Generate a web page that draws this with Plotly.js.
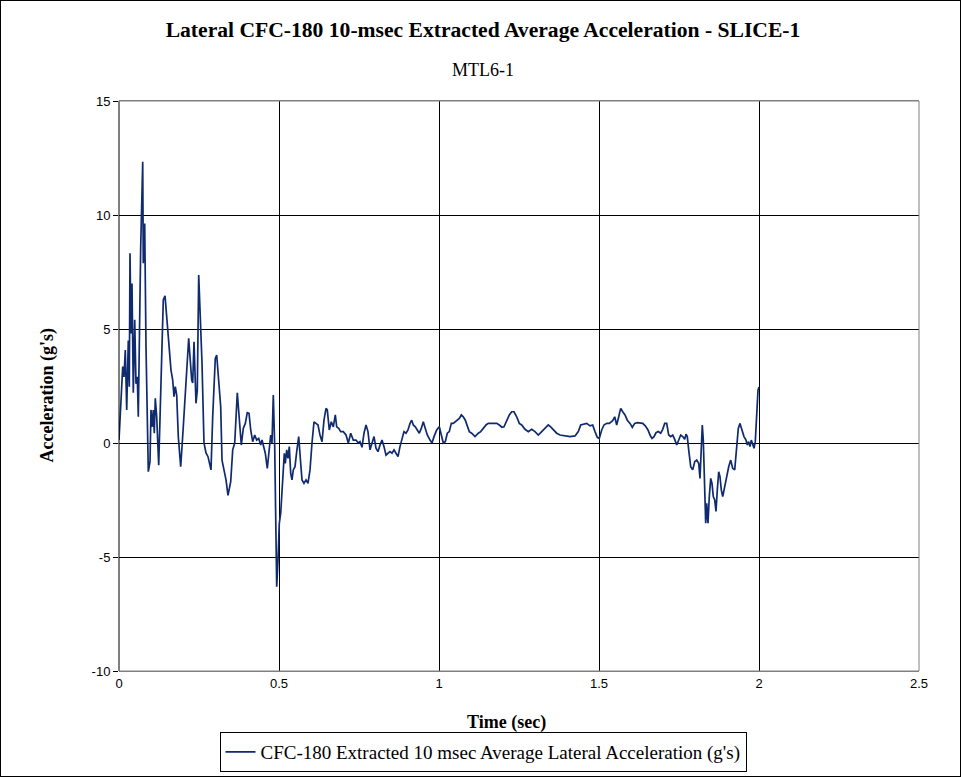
<!DOCTYPE html>
<html>
<head>
<meta charset="utf-8">
<script src="https://cdn.plot.ly/plotly-3.0.1.min.js"></script>
<style>
html,body{margin:0;padding:0;background:#fff;}
#chart{width:959px;height:775px;border:1px solid #000;}
</style>
</head>
<body>
<div id="chart"></div>
<script>
const timeSec = [
0.000,0.0116,0.0156,0.0197,0.0241,0.0291,0.0322,0.0344,0.0375,0.0406,0.0447,0.0491,0.0531,0.0572,0.0603,0.0678,0.0741,0.0759,0.0803,0.0844,
0.0916,0.0969,0.1000,0.1041,0.1072,0.1103,0.1134,0.1178,0.1241,0.1303,0.1384,0.1438,0.1509,0.1572,0.1625,0.1678,0.1719,0.1759,0.1803,0.1853,
0.1928,0.2009,0.2094,0.2178,0.2219,0.2272,0.2303,0.2344,0.2406,0.2447,0.2491,0.2531,0.2594,0.2656,0.2719,0.2781,0.2822,0.2875,0.2928,0.3009,
0.3053,0.3116,0.3178,0.3219,0.3281,0.3344,0.3406,0.3491,0.3553,0.3616,0.3697,0.3759,0.3822,0.3884,0.3947,0.4009,0.4063,0.4116,0.4178,0.4241,
0.4303,0.4366,0.4428,0.4469,0.4509,0.4572,0.4634,0.4697,0.4741,0.4781,0.4822,0.4866,0.4906,0.4928,0.4969,0.5009,0.5053,0.5094,0.5134,0.5166,
0.5197,0.5241,0.5281,0.5322,0.5366,0.5406,0.5447,0.5500,0.5553,0.5616,0.5678,0.5719,0.5781,0.5844,0.5906,0.5969,0.6031,0.6094,0.6156,0.6219,
0.6281,0.6344,0.6406,0.6469,0.6509,0.6572,0.6634,0.6697,0.6759,0.6803,0.6866,0.6928,0.7009,0.7094,0.7166,0.7241,0.7322,0.7406,0.7478,0.7531,
0.7594,0.7656,0.7719,0.7781,0.7844,0.7906,0.7969,0.8031,0.8094,0.8156,0.8219,0.8281,0.8344,0.8406,0.8469,0.8531,0.8594,0.8656,0.8719,0.8781,
0.8844,0.8906,0.8969,0.9031,0.9094,0.9147,0.9197,0.9259,0.9322,0.9384,0.9447,0.9509,0.9572,0.9634,0.9719,0.9781,0.9844,0.9928,1.0009,1.0072,
1.0134,1.0197,1.0259,1.0322,1.0384,1.0447,1.0509,1.0572,1.0634,1.0697,1.0759,1.0822,1.0884,1.0947,1.1022,1.1125,1.1228,1.1303,1.1384,1.1469,
1.1541,1.1616,1.1697,1.1803,1.1884,1.1969,1.2031,1.2116,1.2197,1.2272,1.2344,1.2428,1.2509,1.2584,1.2688,1.2791,1.2897,1.3000,1.3103,1.3209,
1.3313,1.3416,1.3491,1.3572,1.3678,1.3781,1.3938,1.4094,1.4250,1.4353,1.4428,1.4531,1.4616,1.4719,1.4803,1.4875,1.4947,1.5009,1.5084,1.5156,
1.5241,1.5322,1.5428,1.5491,1.5553,1.5616,1.5678,1.5741,1.5813,1.5884,1.5969,1.6041,1.6116,1.6197,1.6281,1.6366,1.6447,1.6531,1.6594,1.6656,
1.6719,1.6781,1.6853,1.6928,1.6991,1.7053,1.7116,1.7178,1.7241,1.7303,1.7366,1.7428,1.7491,1.7553,1.7616,1.7678,1.7719,1.7759,1.7803,1.7866,
1.7928,1.7991,1.8053,1.8116,1.8156,1.8188,1.8228,1.8259,1.8291,1.8334,1.8366,1.8406,1.8447,1.8491,1.8531,1.8572,1.8616,1.8656,1.8697,1.8741,
1.8781,1.8822,1.8866,1.8906,1.8947,1.8991,1.9053,1.9116,1.9178,1.9241,1.9303,1.9353,1.9406,1.9459,1.9531,1.9594,1.9634,1.9678,1.9719,1.9759,
1.9803,1.9844,1.9884,1.9928,1.9969,2.0000
];
const accelG = [
0.13,3.35,2.9,4.08,1.45,4.5,2.47,8.32,4.8,7.0,2.2,5.4,2.6,2.9,1.15,8.6,12.34,7.88,9.63,4.2,
-1.26,-0.82,1.45,0.71,1.45,0.43,1.96,1.15,-0.97,2.6,6.27,6.45,5.25,4.22,3.2,2.76,2.03,2.47,2.1,0.28,
-1.04,0.71,2.62,4.59,3.79,2.76,2.63,4.44,1.74,2.32,7.37,5.83,3.5,0.0,-0.44,-0.6,-0.82,-1.18,1.15,3.71,
3.86,2.9,1.59,-0.75,-1.18,-1.62,-2.3,-1.7,-0.3,0.0,2.2,1.15,-0.09,0.64,0.86,1.33,1.3,0.57,0.06,0.35,
0.13,0.2,-0.09,0.13,-0.16,-0.45,-1.11,-0.09,0.35,0.0,2.1,-0.16,-3.38,-6.3,-5.13,-3.52,-3.08,-1.92,-1.18,-0.45,
-0.89,-0.3,-0.67,-0.16,-1.33,-1.62,-1.18,-1.04,-0.38,0.28,-0.89,-1.62,-1.77,-1.62,-1.77,-1.18,0.0,0.93,0.86,0.79,
0.35,0.06,1.0,1.52,1.45,0.57,0.93,0.71,1.23,0.71,0.64,0.5,0.5,0.35,0.0,0.43,0.13,0.13,0.0,0.06,
-0.19,0.43,0.79,0.5,-0.3,0.0,0.28,-0.23,-0.38,-0.09,0.13,-0.16,-0.53,-0.45,-0.38,-0.45,-0.3,-0.45,-0.6,-0.16,
0.13,0.5,0.43,0.57,0.86,1.0,0.79,0.71,0.57,0.43,0.64,0.93,0.64,0.35,0.13,0.0,0.28,0.57,0.71,0.28,
0.0,0.06,0.43,0.5,0.86,0.86,0.93,1.0,1.08,1.23,1.15,1.0,0.79,0.5,0.43,0.28,0.43,0.5,0.64,0.79,
0.86,0.86,0.89,0.86,0.79,0.69,0.71,1.0,1.23,1.37,1.37,1.15,0.86,0.79,0.6,0.5,0.6,0.5,0.35,0.5,
0.64,0.79,0.71,0.57,0.43,0.35,0.32,0.28,0.31,0.5,0.79,0.82,0.86,0.75,0.79,0.5,0.25,0.2,0.57,0.79,
0.86,0.86,0.98,1.15,0.79,1.15,1.52,1.37,1.23,1.0,0.86,0.69,0.86,0.89,0.86,0.86,0.75,0.57,0.35,0.2,
0.28,0.45,0.5,0.43,0.6,0.86,0.86,0.35,0.28,0.35,0.16,-0.09,0.13,0.35,0.28,0.16,0.39,0.28,-0.3,-1.04,
-1.18,-0.82,-0.75,-0.89,-1.55,-0.75,0.79,0.13,-1.77,-3.52,-2.64,-3.52,-2.35,-1.55,-1.77,-2.35,-2.5,-3.0,-2.06,-1.26,
-1.48,-2.06,-2.35,-2.06,-1.92,-1.48,-1.04,-0.75,-1.11,-1.18,-0.16,0.64,0.86,0.57,0.28,0.13,-0.09,0.06,-0.16,0.13,
-0.09,-0.23,0.06,1.45,2.32,2.45
];
const xTicks = [0, 0.5, 1, 1.5, 2, 2.5];
const yTicks = [-10, -5, 0, 5, 10, 15];
const seriesName = "CFC-180 Extracted 10 msec Average Lateral Acceleration (g's)";

const serif = '"Liberation Serif", "Times New Roman", serif';
const sans = '"Liberation Sans", Arial, sans-serif';

const trace = {
  x: timeSec, y: accelG, type: 'scatter', mode: 'lines', name: seriesName,
  line: {color: '#0f2a6e', width: 1.7},
  showlegend: true
};

const layout = {
  width: 959, height: 775,
  paper_bgcolor: '#fff', plot_bgcolor: '#fff',
  margin: {l: 118, r: 41, t: 100, b: 105},
  title: {
    text: '<b>Lateral CFC-180 10-msec Extracted Average Acceleration - SLICE-1</b>',
    font: {family: serif, size: 21.6, color: '#000'},
    x: 482/959, xref: 'container', xanchor: 'center',
    y: 1 - 28/775, yref: 'container', yanchor: 'middle'
  },
  xaxis: {
    range: [0, 2.5], tickvals: xTicks, ticktext: xTicks.map(String),
    showgrid: true, gridcolor: '#000', gridwidth: 1,
    zeroline: false, showline: true, linecolor: '#808080', linewidth: 1, mirror: true,
    ticks: '', tickfont: {family: sans, size: 13, color: '#000'},
    fixedrange: true
  },
  yaxis: {
    range: [-10, 15], tickvals: yTicks, ticktext: yTicks.map(String),
    showgrid: true, gridcolor: '#000', gridwidth: 1,
    zeroline: true, zerolinecolor: '#000', zerolinewidth: 1,
    showline: false,
    ticks: 'outside', ticklen: 5, tickcolor: '#000', tickwidth: 1,
    tickfont: {family: sans, size: 13, color: '#000'},
    fixedrange: true
  },
  shapes: [
    {type: 'line', xref: 'paper', yref: 'paper', x0: 0, x1: 0, y0: 0, y1: 1,
     line: {color: '#000', width: 1}},
    {type: 'line', xref: 'paper', yref: 'paper', x0: 0, x1: 1, y0: 1, y1: 1,
     line: {color: '#808080', width: 1}},
    {type: 'line', xref: 'paper', yref: 'paper', x0: 1, x1: 1, y0: 0, y1: 1,
     line: {color: '#808080', width: 1}},
    {type: 'line', xref: 'paper', yref: 'paper', x0: 0, x1: 1, y0: 0, y1: 0,
     line: {color: '#808080', width: 1}}
  ],
  annotations: [
    {text: 'MTL6-1', xref: 'paper', yref: 'paper', x: (482-118)/800, y: 1 + 31/570,
     xanchor: 'center', yanchor: 'middle', showarrow: false,
     font: {family: serif, size: 18, color: '#000'}},
    {text: '<b>Time (sec)</b>', xref: 'paper', yref: 'paper', x: (505-118)/800, y: -(721-670)/570,
     xanchor: 'center', yanchor: 'middle', showarrow: false,
     font: {family: serif, size: 18, color: '#000'}},
    {text: "<b>Acceleration (g's)</b>", xref: 'paper', yref: 'paper', x: -(118-46)/800, y: (670-394.5)/570,
     xanchor: 'center', yanchor: 'middle', showarrow: false, textangle: -90,
     font: {family: serif, size: 18, color: '#000'}}
  ],
  showlegend: true,
  legend: {
    orientation: 'h', x: 482/959, xanchor: 'center', xref: 'container',
    y: 1 - 771/775, yanchor: 'bottom', yref: 'container',
    bgcolor: '#fff', bordercolor: '#000', borderwidth: 1,
    font: {family: serif, size: 19, color: '#000'},
    itemwidth: 30
  }
};

Plotly.newPlot('chart', [trace], layout, {displayModeBar: false, staticPlot: true});
</script>
</body>
</html>
